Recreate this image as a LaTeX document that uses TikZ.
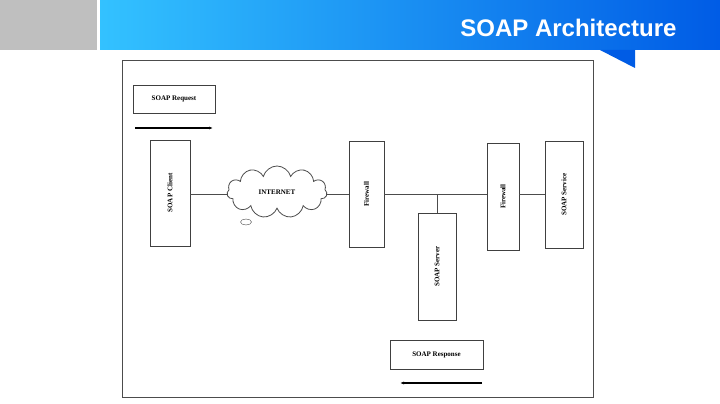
\documentclass[tikz,border=0pt]{standalone}
\usepackage{fontspec}
\setmainfont{Liberation Serif}
\setsansfont{Liberation Sans}
\usetikzlibrary{shapes.symbols,shapes.geometric,arrows.meta}
\tikzstyle{blk}=[draw=black!75,
	       fill=white,
	       thick,
	       font=\bfseries\fontsize{7}{8}\selectfont,
	       inner sep=2pt]
\tikzstyle{vblk}=[blk, rotate=90, minimum height=1cm]
\tikzstyle{wire}=[draw=black!70, semithick]
\tikzstyle{flow}=[draw=black, line width=1.2pt, -{Latex[length=4pt]}]

\begin{document}
\begin{tikzpicture}[x=1pt,y=-1pt]
\useasboundingbox (0,0) rectangle (720,404);
\fill[white] (0,0) rectangle (720,404);

% header band
\fill[black!25] (0,0) rectangle (97,50);
\shade[left color=cyan!70!blue!80, right color=blue!60!cyan!90!black] (100,0) rectangle (720,50);
\fill[blue!60!cyan!90!black] (600,50) -- (635,50) -- (635,68) -- cycle;
\node[anchor=east, text=white, font=\sffamily\bfseries\fontsize{24}{26}\selectfont] (title) at (680,28) {SOAP Architecture};

% outer frame
\draw[draw=black!70, thick] (122,60) rectangle (593,397);

% vertical boxes
\node[vblk, minimum width=106pt, minimum height=40pt] (client) at (170,193) {SOAP Client};
\node[vblk, minimum width=106pt, minimum height=35pt] (fw1) at (366.5,194) {Firewall};
\node[vblk, minimum width=107pt, minimum height=32pt] (fw2) at (503,196.5) {Firewall};
\node[vblk, minimum width=107pt, minimum height=38pt] (service) at (564,194.5) {SOAP Service};
\node[vblk, minimum width=107pt, minimum height=38pt] (server) at (437,266.5) {SOAP Server};

% cloud
\node[cloud, cloud puffs=11, aspect=2.2, draw=black!70, thick, fill=white,
      minimum width=100pt, minimum height=52pt,
      font=\bfseries\fontsize{7}{8}\selectfont] (net) at (277,192) {INTERNET};
\node[ellipse, draw=black!70, fill=white, minimum width=11pt, minimum height=6pt, inner sep=0pt] (puff) at (246,222) {};

% connections
\draw[wire] (client.south |- 0,194) -- (net.west |- 0,194);
\draw[wire] (net.east |- 0,194) -- (fw1.north |- 0,194);
\draw[wire] (fw1.south |- 0,194) -- (fw2.north |- 0,194);
\draw[wire] (fw2.south |- 0,194) -- (service.north |- 0,194);
\coordinate (tap) at (437,194);
\draw[wire] (tap) -- (server.east);

% message labels
\node[blk, minimum width=82pt, minimum height=28pt] (req) at (174,99) {SOAP Request};
\coordinate (reqA) at (135,128);
\coordinate (reqB) at (213,128);
\draw[flow] (reqA) -- (reqB);

\node[blk, minimum width=93pt, minimum height=29pt] (resp) at (436.5,354.5) {SOAP Response};
\coordinate (respA) at (482,383);
\coordinate (respB) at (400,383);
\draw[flow] (respA) -- (respB);

\end{tikzpicture}
\end{document}
